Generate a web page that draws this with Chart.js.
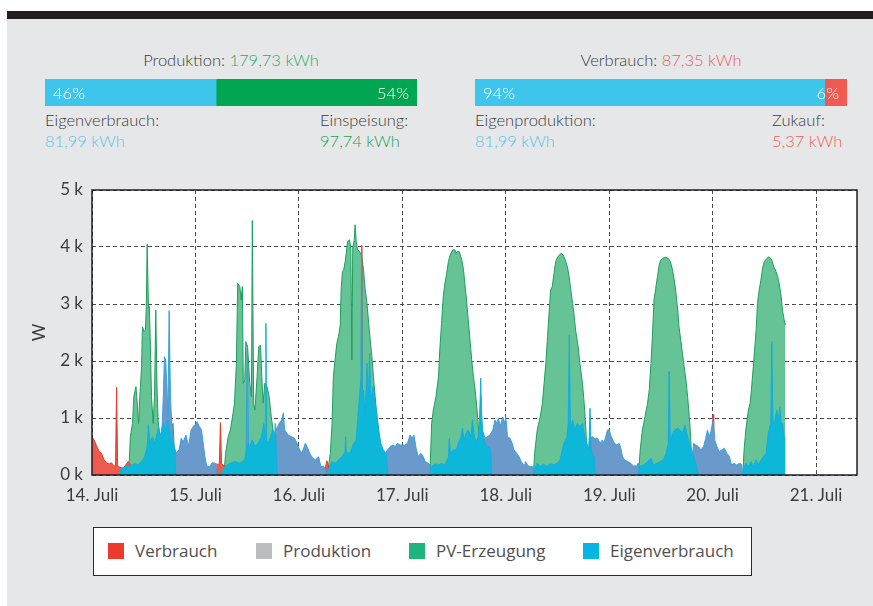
<!DOCTYPE html>
<html lang="de">
<head>
<meta charset="utf-8">
<title>Produktion und Verbrauch 14.–20. Juli</title>
<script src="https://cdn.jsdelivr.net/npm/chart.js@4.4.1/dist/chart.umd.min.js"></script>
<style>
  html, body { margin: 0; padding: 0; }
  body { width: 873px; height: 606px; position: relative; overflow: hidden; background: #fff; font-family: Lato, "Open Sans", sans-serif; }
  #panel { position: absolute; left: 7px; top: 11px; right: 0; bottom: 0; background: #e6e7e8; border-top: 8px solid #231f20; }
  .t { position: absolute; font-size: 16.5px; font-weight: 300; color: #3b3b3b; line-height: 20px; white-space: nowrap; }
  .blue { color: #5ac5ea; }
  .green { color: #2eaa66; }
  .dgreen { color: #1f9f55; }
  .red { color: #ef5d56; }
  canvas { position: absolute; }
  #legend { position: absolute; left: 93px; top: 527px; width: 659px; height: 49px; box-sizing: border-box; background: #fff; border: 1.5px solid #2b2b2b; }
  .li { position: absolute; top: 11px; font-family: "Open Sans", sans-serif; font-size: 17px; line-height: 24px; color: #505050; white-space: nowrap; }
  .li i { display: inline-block; width: 16px; height: 16px; vertical-align: -2px; margin-right: 11px; }
</style>
</head>
<body>
<div id="panel"></div>

<div class="t" style="left:45px;width:372px;text-align:center;top:50px">Produktion: <span class="green" id="prodTotal"></span></div>
<canvas id="prodBar" width="372" height="27" style="left:45px;top:79px"></canvas>
<div class="t" style="left:45px;top:110px">Eigenverbrauch:</div>
<div class="t blue" style="left:45px;top:131px" id="prodKwh0"></div>
<div class="t" style="left:320px;top:110px">Einspeisung:</div>
<div class="t dgreen" style="left:320px;top:131px" id="prodKwh1"></div>

<div class="t" style="left:475px;width:372px;text-align:center;top:50px">Verbrauch: <span class="red" id="verbTotal"></span></div>
<canvas id="verbBar" width="372" height="27" style="left:475px;top:79px"></canvas>
<div class="t" style="left:475px;top:110px">Eigenproduktion:</div>
<div class="t blue" style="left:475px;top:131px" id="verbKwh0"></div>
<div class="t" style="left:772px;top:110px">Zukauf:</div>
<div class="t red" style="left:772px;top:131px" id="verbKwh1"></div>

<canvas id="powerChart" width="873" height="350" style="left:0;top:170px"></canvas>

<div id="legend">
  <span class="li" style="left:14px"><i style="background:#ee3a2c"></i>Verbrauch</span>
  <span class="li" style="left:162px"><i style="background:#bcbdc0"></i>Produktion</span>
  <span class="li" style="left:315px"><i style="background:#1db47d"></i>PV-Erzeugung</span>
  <span class="li" style="left:489px"><i style="background:#07b5e5"></i>Eigenverbrauch</span>
</div>

<script>
// --- Summary values ---
const produktionTotal = 179.73;
const produktionShare = [46, 54];        // Eigenverbrauch, Einspeisung (%)
const produktionKwh = [81.99, 97.74];
const verbrauchTotal = 87.35;
const verbrauchShare = [94, 6];          // Eigenproduktion, Zukauf (%)
const verbrauchKwh = [81.99, 5.37];

// --- Power curves: [hours since 14. Juli 00:00, W] ---
const dayTicks = [0, 24, 48, 72, 96, 120, 144, 168];
const firstDay = 14;
const hoursMax = 177.5;

const pvErzeugung = [
    [8.5,0],[8.9,670],[9.4,905],[9.7,1375],[10.2,1550],[10.5,1260],[10.8,905],[11.1,1375],[11.5,1900],[11.7,2600],[12.1,2515],[12.4,2545],[12.6,2955],[12.8,4050],[13.1,2925],[13.3,2955],[13.5,2430],[13.8,1375],[14.2,905],[14.5,1375],[14.8,2895],[15.1,1490],[15.4,850],[15.8,670],[16.5,600],[17.3,650],[18.2,800],[18.8,905],[19.4,0],[19.5,null],
    [30.6,0],[31.0,380],[31.6,670],[32.1,790],[32.6,1020],[33.05,1260],[33.5,1960],[33.8,3365],[34.3,3305],[34.6,3070],[34.9,3305],[35.1,1610],[35.45,1670],[35.7,2340],[36.1,2250],[36.6,1610],[37.0,1375],[37.2,4465],[37.5,1260],[37.8,1140],[38.3,1725],[38.7,2250],[39.1,2280],[39.4,1725],[39.7,1260],[40.1,1610],[40.6,1550],[41.1,1375],[41.6,1020],[42.0,790],[42.3,0],[42.4,null],
    [54.6,0],[55.3,380],[55.7,905],[56.0,1725],[56.4,2020],[56.8,2310],[57.2,2430],[57.6,2630],[57.8,3245],[58.1,3570],[58.4,3600],[58.75,3745],[59.3,4095],[59.75,4125],[60.05,3980],[60.3,2020],[60.5,3980],[60.85,4125],[61.05,4390],[61.3,4095],[61.6,3950],[62.1,3920],[62.6,3830],[63.0,3600],[63.4,3245],[63.8,3010],[64.2,2660],[64.55,2370],[64.95,2075],[65.3,1725],[65.7,1375],[66.1,1020],[66.5,790],[66.9,555],[67.3,440],[67.6,0],[67.7,null],
    [78.4,0],[78.8,905],[79.2,1140],[79.8,1375],[80.4,1725],[80.7,2195],[81.1,2660],[81.5,3130],[81.9,3365],[82.3,3540],[82.7,3745],[83.1,3860],[83.7,3950],[84.2,3950],[84.5,3890],[84.8,3920],[85.2,3920],[85.8,3775],[86.2,3600],[86.5,3365],[86.9,3070],[87.3,2720],[87.7,2370],[88.1,2020],[88.5,1725],[88.9,1490],[89.2,1260],[89.6,905],[89.9,555],[90.2,0],[90.3,null],
    [102.4,0],[102.7,380],[103.3,790],[104.0,1020],[104.5,1260],[104.9,1610],[105.3,1960],[105.7,2430],[106.1,2895],[106.4,3245],[106.8,3305],[107.2,3540],[107.6,3745],[108.1,3830],[108.8,3890],[109.3,3860],[109.8,3775],[110.3,3655],[110.7,3480],[111.1,3245],[111.5,3010],[111.9,2780],[112.2,2545],[112.8,2250],[113.2,1960],[113.8,1610],[114.2,1260],[114.6,790],[114.8,440],[115.1,0],[115.2,null],
    [126.8,0],[127.2,440],[127.7,790],[128.3,1020],[128.9,1260],[129.3,1490],[129.7,1960],[130.1,2545],[130.4,3070],[130.8,3275],[131.2,3480],[131.6,3685],[132.0,3775],[132.4,3800],[133.1,3820],[133.7,3800],[134.2,3745],[134.7,3600],[135.1,3420],[135.5,3190],[135.9,2895],[136.2,2600],[136.6,2370],[137.0,2135],[137.4,1900],[137.8,1670],[138.2,1375],[138.6,1020],[138.9,670],[139.3,0],[139.4,null],
    [151.0,0],[151.3,440],[151.7,790],[152.3,1140],[152.7,1260],[153.0,1490],[153.5,1960],[154.1,2545],[154.4,3010],[154.8,3245],[155.2,3420],[155.6,3630],[156.0,3745],[156.6,3800],[157.1,3830],[157.7,3775],[158.2,3655],[158.7,3570],[159.1,3480],[159.5,3335],[159.9,3130],[160.2,2895],[160.6,2720],[160.9,2630]
];

const eigenverbrauch = [
    [6.3,0],[6.8,115],[7.6,145],[8.8,160],[9.9,205],[10.7,175],[11.5,235],[12.2,320],[12.8,500],[13.1,880],[13.4,555],[14.0,670],[14.5,555],[14.9,670],[15.5,850],[15.8,670],[16.5,905],[17.1,790],[17.6,965],[18.2,670],[18.8,500],[19.2,440],[19.4,0],[19.5,null],
    [29.6,0],[30.8,145],[32.0,205],[33.1,235],[34.3,205],[35.4,265],[36.2,555],[36.6,500],[37.2,615],[37.8,500],[38.5,555],[39.3,670],[39.9,905],[40.2,600],[40.35,2660],[40.5,600],[40.9,555],[41.4,670],[42.0,790],[42.6,700],[43.0,0],[43.1,null],
    [54.1,0],[54.9,115],[55.7,235],[56.4,205],[57.2,265],[58.0,320],[58.7,400],[58.85,670],[59.0,400],[59.9,380],[60.7,555],[61.3,615],[61.7,1020],[62.1,1400],[62.4,1700],[62.55,3950],[62.7,1490],[63.0,1490],[63.4,1020],[63.8,1960],[64.2,1375],[64.4,2135],[64.7,1260],[65.2,1550],[65.7,1260],[66.1,1080],[66.5,790],[67.0,555],[67.6,440],[68.3,380],[68.6,0],[68.7,null],
    [78.3,0],[78.8,145],[79.6,195],[80.4,175],[81.1,205],[81.9,175],[82.7,320],[82.9,645],[83.2,380],[83.8,440],[84.5,440],[85.0,555],[85.6,670],[86.0,820],[86.3,615],[86.8,730],[87.3,790],[87.9,670],[88.3,965],[88.6,730],[89.1,555],[89.6,670],[89.9,900],[90.2,1700],[90.4,1000],[90.6,700],[91.2,550],[91.8,500],[92.5,450],[92.7,0],[92.8,null],
    [102.3,0],[102.7,115],[103.3,205],[104.0,145],[104.7,195],[105.5,145],[106.3,195],[107.1,175],[107.8,205],[108.6,265],[109.1,440],[109.5,555],[110.2,670],[110.5,905],[110.75,2455],[111.0,790],[111.5,965],[112.0,790],[112.6,905],[113.2,850],[113.8,905],[114.3,670],[114.8,555],[115.3,440],[115.55,1170],[115.8,440],[116.5,320],[116.8,0],[116.9,null],
    [126.7,0],[127.2,160],[128.1,175],[128.9,235],[129.7,290],[130.3,175],[131.1,205],[131.8,235],[132.6,265],[133.2,380],[133.7,555],[133.9,1815],[134.2,555],[134.7,730],[135.2,790],[135.9,820],[136.5,790],[137.0,730],[137.6,880],[138.0,730],[138.6,555],[139.1,440],[139.6,320],[140.1,205],[140.7,0],[140.8,null],
    [150.7,0],[151.2,115],[151.7,205],[152.3,145],[152.9,235],[153.5,145],[154.1,265],[154.6,175],[155.2,265],[155.8,320],[156.4,380],[156.8,670],[157.1,790],[157.5,905],[157.75,2340],[158.0,905],[158.5,965],[158.9,1140],[159.3,965],[159.6,1200],[159.9,905],[160.2,905],[160.6,670],[160.9,645]
];

const produktion = [
    [15.8,0],[16.3,905],[16.6,1490],[16.8,2075],[17.1,2020],[17.4,1490],[17.6,1020],[17.9,2885],[18.2,1375],[18.5,905],[18.9,555],[19.5,380],[20.2,440],[20.7,645],[21.2,585],[21.8,700],[22.4,500],[23.0,790],[23.5,850],[24.2,905],[24.4,935],[24.9,850],[25.4,790],[25.8,555],[26.2,320],[26.6,160],[27.3,145],[27.9,215],[28.7,205],[29.0,0],[29.1,null],
    [35.7,200],[36.05,2280],[36.35,300],[36.4,null],
    [42.2,0],[42.5,905],[42.8,790],[43.4,905],[44.0,965],[44.4,1090],[44.7,790],[45.5,700],[46.3,670],[47.0,645],[47.6,555],[48.2,440],[48.7,380],[49.5,555],[49.9,500],[50.5,380],[51.0,320],[51.8,265],[52.6,320],[53.1,145],[53.7,160],[54.1,115],[54.4,0],[54.5,null],
    [67.5,0],[68.0,380],[68.6,440],[69.2,500],[69.8,525],[70.4,500],[70.8,555],[71.5,525],[72.3,525],[72.6,525],[73.2,555],[73.8,700],[74.3,645],[74.7,700],[75.2,470],[75.7,320],[76.25,380],[76.7,350],[77.3,235],[78.0,205],[78.4,175],[78.6,0],[78.7,null],
    [89.5,0],[90.2,1375],[90.6,790],[91.2,645],[91.7,670],[92.3,700],[93.0,790],[93.5,965],[93.9,905],[94.3,995],[94.7,850],[95.3,1020],[95.8,905],[96.0,1020],[96.4,670],[97.0,645],[97.5,555],[97.9,440],[98.55,380],[99.1,320],[99.6,235],[100.3,160],[100.6,235],[101.2,160],[101.8,145],[102.3,145],[102.6,0],[102.7,null],
    [114.9,0],[115.4,645],[116.1,670],[116.6,645],[117.3,645],[117.9,555],[118.4,615],[118.8,555],[119.6,790],[120.0,790],[120.5,670],[121.2,555],[121.8,525],[122.3,555],[122.7,470],[123.1,320],[123.6,265],[124.3,235],[125.0,205],[125.6,160],[126.4,160],[126.7,205],[126.9,0],[127.0,null],
    [138.9,0],[139.6,555],[140.1,525],[140.7,500],[141.3,440],[141.9,500],[142.4,645],[142.8,790],[143.2,670],[143.6,760],[144.1,965],[144.5,615],[145.0,500],[145.5,410],[146.1,440],[146.7,470],[147.3,380],[147.9,320],[148.4,175],[149.0,205],[149.6,175],[150.2,205],[150.7,190],[151.0,0]
];

const verbrauch = [
    [0,670],[0.5,615],[1.1,500],[1.7,410],[2.2,380],[2.8,265],[3.4,215],[4.0,195],[4.5,215],[5.1,160],[5.45,150],[5.7,1540],[5.95,150],[6.5,135],[7.2,115],[7.8,175],[8.4,235],[8.8,200],[9.0,0],[9.1,null],
    [28.8,190],[29.4,190],[29.55,200],[29.8,920],[30.05,200],[30.4,175],[30.8,160],[31.0,0],[31.1,null],
    [54.1,0],[54.2,150],[54.5,250],[54.8,170],[55.0,0],[55.1,null],
    [62.5,1000],[62.57,4030],[62.64,1000],[62.7,null],
    [143.95,700],[144.1,1060],[144.25,700]
];

const toPoints = (rows) => rows.map(([x, y]) => ({ x, y }));
const kwh = (v) => v.toFixed(2).replace('.', ',') + ' kWh';

// --- Summary texts ---
document.getElementById('prodTotal').textContent = kwh(produktionTotal);
document.getElementById('prodKwh0').textContent = kwh(produktionKwh[0]);
document.getElementById('prodKwh1').textContent = kwh(produktionKwh[1]);
document.getElementById('verbTotal').textContent = kwh(verbrauchTotal);
document.getElementById('verbKwh0').textContent = kwh(verbrauchKwh[0]);
document.getElementById('verbKwh1').textContent = kwh(verbrauchKwh[1]);

Chart.defaults.font.family = 'Lato, "Open Sans", sans-serif';

// --- Split bars (percentages) ---
const shareLabels = {
    id: 'shareLabels',
    afterDatasetsDraw(chart) {
        const { ctx } = chart;
        ctx.save();
        ctx.font = '300 16.5px Lato';
        ctx.fillStyle = '#fff';
        ctx.textBaseline = 'middle';
        chart.data.datasets.forEach((ds, i) => {
            const bar = chart.getDatasetMeta(i).data[0];
            const text = ds.data[0] + '%';
            if (i === 0) {
                ctx.textAlign = 'left';
                ctx.fillText(text, bar.base + 8, bar.y + 1);
            } else {
                ctx.textAlign = 'right';
                ctx.fillText(text, bar.x - 8, bar.y + 1);
            }
        });
        ctx.restore();
    }
};

function splitBar(id, shares, colors) {
    new Chart(document.getElementById(id), {
        type: 'bar',
        data: {
            labels: [''],
            datasets: shares.map((v, i) => ({
                data: [v],
                backgroundColor: colors[i],
                borderWidth: 0,
                barPercentage: 1,
                categoryPercentage: 1
            }))
        },
        options: {
            indexAxis: 'y',
            responsive: false,
            animation: false,
            layout: { padding: 0 },
            scales: {
                x: { stacked: true, min: 0, max: 100, display: false },
                y: { stacked: true, display: false }
            },
            plugins: { legend: { display: false }, tooltip: { enabled: false } }
        },
        plugins: [shareLabels]
    });
}

splitBar('prodBar', produktionShare, ['#3ec5eb', '#00a651']);
splitBar('verbBar', verbrauchShare, ['#3ec5eb', '#f15a50']);

// --- Main power chart ---
const plotFrame = {
    id: 'plotFrame',
    beforeDraw(chart) {
        const { ctx, chartArea: a } = chart;
        ctx.save();
        ctx.fillStyle = '#fff';
        ctx.fillRect(a.left, a.top, a.right - a.left, a.bottom - a.top);
        ctx.restore();
    },
    afterDraw(chart) {
        const { ctx, chartArea: a } = chart;
        ctx.save();
        ctx.strokeStyle = '#231f20';
        ctx.lineWidth = 1.5;
        ctx.strokeRect(a.left, a.top, a.right - a.left, a.bottom - a.top);
        ctx.restore();
    }
};

const area = (label, rows, line, fill, order) => ({
    label,
    data: toPoints(rows),
    borderColor: line,
    backgroundColor: fill,
    borderWidth: 1,
    fill: 'origin',
    pointRadius: 0,
    tension: 0,
    order
});

const tickFont = { family: 'Lato', size: 17 };
const gridColor = '#4a4a4a';

new Chart(document.getElementById('powerChart'), {
    type: 'line',
    data: {
        datasets: [
            area('Eigenverbrauch', eigenverbrauch, '#13addf', '#0cb7da', 0),
            area('Produktion', produktion, '#35a3dc', '#6a9acb', 1),
            area('Verbrauch', verbrauch, '#e8392c', '#ef5a4e', 2),
            area('PV-Erzeugung', pvErzeugung, '#1e9f5e', '#66c396', 3)
        ]
    },
    options: {
        responsive: false,
        animation: false,
        layout: { padding: { left: 29, right: 16, top: 20, bottom: 0 } },
        plugins: { legend: { display: false }, tooltip: { enabled: false } },
        scales: {
            x: {
                type: 'linear',
                min: 0,
                max: hoursMax,
                afterBuildTicks: (scale) => { scale.ticks = dayTicks.map(v => ({ value: v })); },
                afterFit: (scale) => { scale.height = 45; },
                ticks: {
                    callback: (v) => (firstDay + v / 24) + '. Juli',
                    font: tickFont,
                    color: '#3c3c3c',
                    padding: 10,
                    maxRotation: 0,
                    autoSkip: false
                },
                grid: { color: gridColor, drawTicks: false },
                border: { display: false, dash: [4, 3] }
            },
            y: {
                min: 0,
                max: 5000,
                afterFit: (scale) => { scale.width = 63; },
                ticks: {
                    stepSize: 1000,
                    callback: (v) => (v / 1000) + ' k',
                    font: tickFont,
                    color: '#3c3c3c',
                    padding: 9
                },
                title: { display: true, text: 'W', font: tickFont, color: '#3c3c3c', padding: 0 },
                grid: { color: gridColor, drawTicks: false },
                border: { display: false, dash: [4, 3] }
            }
        }
    },
    plugins: [plotFrame]
});
</script>
</body>
</html>
